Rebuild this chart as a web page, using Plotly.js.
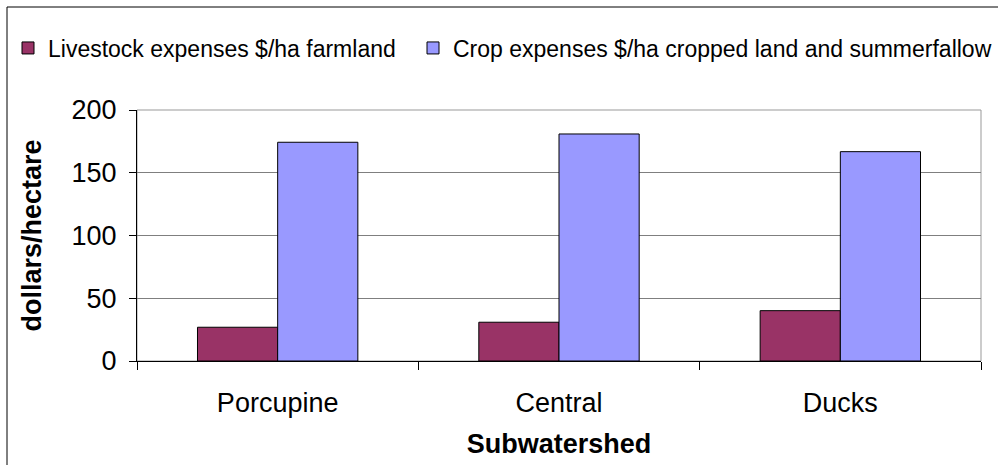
<!DOCTYPE html>
<html>
<head>
<meta charset="utf-8">
<script src="https://cdn.plot.ly/plotly-3.0.1.min.js"></script>
<style>
html,body{margin:0;padding:0;background:#fff;overflow:hidden;}
#chart{width:998px;height:465px;}
</style>
</head>
<body>
<div id="chart"></div>
<script>
const categories = ["Porcupine", "Central", "Ducks"];
const livestockName = "Livestock expenses $/ha farmland";
const cropName = "Crop expenses $/ha cropped land and summerfallow";
const livestockValues = [26.9, 30.9, 40.1];
const cropValues = [174.3, 180.9, 166.8];
const yTickValues = [0, 50, 100, 150, 200];
const xTitle = "Subwatershed";
const yTitle = "dollars/hectare";

const W = 998, H = 465;
const M = {l: 137, r: 17, t: 110, b: 104};
const pw = W - M.l - M.r, ph = H - M.t - M.b;
const FONT = "Liberation Sans, Arial, sans-serif";

const traces = [
  {type: "bar", name: livestockName, x: categories, y: livestockValues,
   marker: {color: "#993366", line: {color: "#000", width: 1}}, legend: "legend"},
  {type: "bar", name: cropName, x: categories, y: cropValues,
   marker: {color: "#9999FF", line: {color: "#000", width: 1}}, legend: "legend2"}
];

const legendBase = {orientation: "h", xref: "container", yref: "container",
  yanchor: "middle", xanchor: "left", y: 1 - 48 / H,
  font: {family: FONT, size: 23, color: "#000"}, bgcolor: "rgba(0,0,0,0)", borderwidth: 0};

const layout = {
  width: W, height: H,
  margin: {l: M.l, r: M.r, t: M.t, b: M.b, pad: 0, autoexpand: false},
  paper_bgcolor: "#fff", plot_bgcolor: "#fff",
  font: {family: FONT, color: "#000"},
  barmode: "group", bargap: 0.43, bargroupgap: 0,
  showlegend: true,
  legend: Object.assign({}, legendBase, {x: 8 / W}),
  legend2: Object.assign({}, legendBase, {x: 413 / W}),
  xaxis: {
    type: "category", showline: true, linecolor: "#000", linewidth: 1,
    ticks: "outside", tickson: "boundaries", ticklen: 8, tickcolor: "#000",
    tickfont: {family: FONT, size: 27, color: "#000"}, ticklabelstandoff: 18,
    showgrid: false, zeroline: false,
    title: {text: xTitle, font: {family: FONT, size: 27, color: "#000", weight: "bold"}, standoff: 16}
  },
  yaxis: {
    range: [0, 200], tickvals: yTickValues, showline: true, linecolor: "#000", linewidth: 1,
    ticks: "outside", ticklen: 7, tickcolor: "#000",
    tickfont: {family: FONT, size: 27, color: "#000"}, ticklabelstandoff: 7,
    showgrid: true, gridcolor: "#7f7f7f", gridwidth: 1, zeroline: false,
    title: {text: yTitle, font: {family: FONT, size: 27, color: "#000", weight: "bold"}, standoff: 22}
  },
  shapes: [
    {type: "rect", xref: "paper", yref: "paper", x0: 0, x1: 1, y0: 0, y1: 1,
     line: {color: "#999", width: 1}, fillcolor: "rgba(0,0,0,0)", layer: "below"},
    {type: "rect", xref: "paper", yref: "paper",
     x0: (7 - M.l) / pw, x1: (W + 50 - M.l) / pw,
     y0: -(M.b + 50) / ph, y1: 1 + (M.t - 7) / ph,
     line: {color: "#000", width: 1}, fillcolor: "rgba(0,0,0,0)", layer: "below"}
  ]
};

Plotly.newPlot("chart", traces, layout, {displayModeBar: false, staticPlot: true});
</script>
</body>
</html>
